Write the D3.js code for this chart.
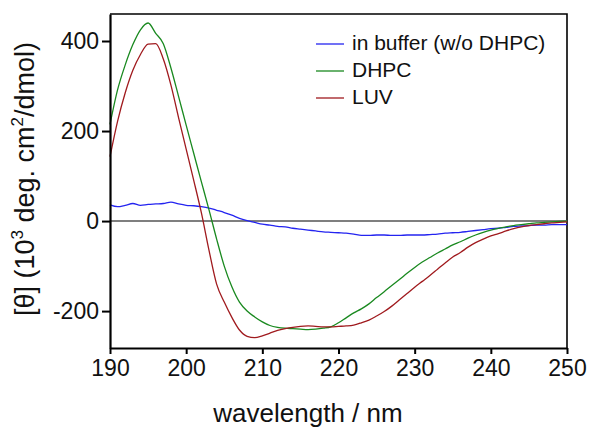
<!DOCTYPE html>
<html>
<head>
<meta charset="utf-8">
<script src="https://cdn.jsdelivr.net/npm/d3@7"></script>
<style>
  body { margin: 0; background: #fff; }
  text { font-family: "Liberation Sans", Arial, sans-serif; }
</style>
</head>
<body>
<div id="chart"></div>
<script>
// data (wavelength in nm, ellipticity in 10^3 deg cm2/dmol)
var wavelength = d3.range(190, 251, 1);

var buffer = [36, 32, 35, 39, 35, 37, 38, 39, 42, 38,
  35, 34, 32, 29, 24, 19, 13, 6, 1, -3,
  -7, -9, -12, -13, -16, -18, -20, -22, -24, -25,
  -26, -27, -29, -32, -32, -31, -31, -32, -32, -31,
  -31, -31, -30, -29, -27, -26, -25, -23, -21, -19,
  -17, -16, -14, -12, -11, -10, -9, -9, -8, -8, -8];

var dhpc = [215, 292, 347, 392, 425, 440, 417, 394, 340, 277,
  213, 150, 87, 25, -40, -100, -146, -180, -200, -213,
  -224, -232, -236, -238, -239, -240, -241, -240, -238, -235,
  -226, -215, -204, -195, -184, -170, -157, -143, -130, -116,
  -103, -91, -81, -71, -62, -53, -46, -38, -31, -25,
  -20, -16, -13, -10, -8, -6, -4, -3, -2, -1, 0];

var luv = [143, 222, 285, 335, 370, 393, 394, 360, 302, 230,
  160, 90, 18, -65, -140, -180, -214, -242, -256, -259,
  -255, -249, -243, -239, -236, -234, -233, -234, -235, -235,
  -234, -233, -231, -226, -220, -211, -201, -189, -175, -161,
  -147, -134, -121, -107, -93, -80, -70, -58, -48, -40,
  -33, -28, -22, -17, -13, -10, -8, -6, -4, -3, -2];

var seriesNames = ["in buffer (w/o DHPC)", "DHPC", "LUV"];
var seriesColors = ["#2424f0", "#19891f", "#a01a1e"];
var xTicks = [190, 200, 210, 220, 230, 240, 250];
var yTicks = [-200, 0, 200, 400];

var svgWidth = 590;
var svgHeight = 428;
var margin = { top: 14, right: 23, bottom: 80, left: 110 };
var width = svgWidth - margin.left - margin.right;
var height = svgHeight - margin.top - margin.bottom;

var svg = d3.select("#chart")
  .append("svg")
  .attr("width", svgWidth)
  .attr("height", svgHeight);

var chartGroup = svg.append("g")
  .attr("transform", `translate(${margin.left}, ${margin.top})`);

var x = d3.scaleLinear().domain([190, 250]).range([0, width]);
var y = d3.scaleLinear().domain([-282, 460]).range([height, 0]);

// frame (top and right)
chartGroup.append("path")
  .attr("d", `M0,0H${width}V${height}`)
  .attr("fill", "none")
  .attr("stroke", "#000")
  .attr("stroke-width", 1.6);

// zero line
chartGroup.append("line")
  .attr("x1", 0).attr("x2", width)
  .attr("y1", y(0)).attr("y2", y(0))
  .attr("stroke", "#555")
  .attr("stroke-width", 1.4);

// lines
var allSeries = [buffer, dhpc, luv];
var line = d3.line()
  .x((d, i) => x(wavelength[i]))
  .y(d => y(d))
  .curve(d3.curveMonotoneX);

chartGroup.selectAll(".series")
  .data(allSeries)
  .enter()
  .append("path")
  .attr("class", "series")
  .attr("d", d => line(d))
  .attr("fill", "none")
  .attr("stroke", (d, i) => seriesColors[i])
  .attr("stroke-width", 1.3);

// axes (plain hyphen for negatives, like the original)
var bottomAxis = d3.axisBottom(x).tickValues(xTicks).tickSizeInner(6).tickSizeOuter(0).tickPadding(6)
  .tickFormat(d => String(d));
var leftAxis = d3.axisLeft(y).tickValues(yTicks).tickSizeInner(8).tickSizeOuter(0).tickPadding(3)
  .tickFormat(d => String(d));

var xg = chartGroup.append("g")
  .attr("transform", `translate(0, ${height})`)
  .call(bottomAxis);
var yg = chartGroup.append("g").call(leftAxis);

[xg, yg].forEach(function(g) {
  g.select(".domain").attr("stroke-width", 2.2);
  g.selectAll(".tick line").attr("stroke-width", 2);
  g.selectAll("text").attr("font-size", 23).attr("fill", "#111")
    .style("font-family", "'Liberation Sans', Arial, sans-serif");
});

// legend
var legend = chartGroup.append("g");
seriesNames.forEach(function(name, i) {
  var ly = 30 + i * 27;
  legend.append("line")
    .attr("x1", 206).attr("x2", 234)
    .attr("y1", ly).attr("y2", ly)
    .attr("stroke", seriesColors[i])
    .attr("stroke-width", 1.3);
  legend.append("text")
    .attr("x", 242).attr("y", ly + 6)
    .attr("font-size", 21)
    .attr("fill", "#111")
    .text(name);
});

// axis labels
svg.append("text")
  .attr("x", 308)
  .attr("y", 422)
  .attr("text-anchor", "middle")
  .attr("font-size", 26)
  .attr("fill", "#111")
  .text("wavelength / nm");

var yLabel = svg.append("text")
  .attr("transform", "translate(34, 179) rotate(-90)")
  .attr("text-anchor", "middle")
  .attr("font-size", 27)
  .attr("fill", "#111");
yLabel.append("tspan").text("[θ] (10");
yLabel.append("tspan").attr("font-size", 17).attr("dy", -11).text("3");
yLabel.append("tspan").attr("dy", 11).text(" deg. cm");
yLabel.append("tspan").attr("font-size", 17).attr("dy", -11).text("2");
yLabel.append("tspan").attr("dy", 11).text("/dmol)");
</script>
</body>
</html>
